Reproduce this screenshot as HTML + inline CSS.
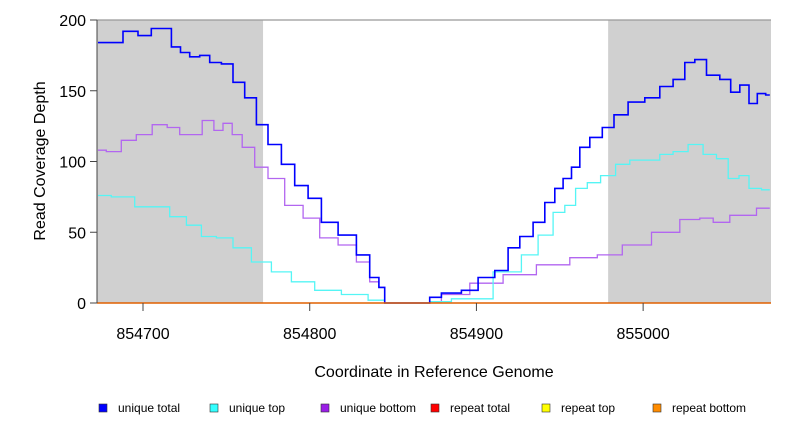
<!DOCTYPE html>
<html><head><meta charset="utf-8"><style>
html,body{margin:0;padding:0;background:#fff;overflow:hidden}
svg{display:block;font-family:"Liberation Sans",Arial,sans-serif}
</style></head><body>
<svg id="chart" width="792" height="432" viewBox="0 0 792 432" xmlns="http://www.w3.org/2000/svg">
<g id="bg"></g>
<g id="series"></g>
<g id="axes"></g>
<text x="434" y="377" font-size="16" text-anchor="middle">Coordinate in Reference Genome</text>
<text transform="translate(45,161) rotate(-90)" font-size="16" text-anchor="middle">Read Coverage Depth</text>
<g id="legend"></g>
</svg>
<script>
const xTicks = [854700, 854800, 854900, 855000];
const yTicks = [0, 50, 100, 150, 200];
const shaded = [[854672.4, 854772], [854979, 855076.7]];
const totalX = [854673,854683,854693,854701,854709,854714,854720,854725,854731,854737,854743,854751,854757,854765,854771,854779,854787,854795,854803,854811,854823,854833,854839,854844,854845,
854872,854886,854896,854906,854916,854922,854930,854938,854944,854950,854954,854960,854964,854972,854979,854986,854996,855006,855014,855022,855028,855034,855042,855050,855055,855061,855066,855071,855076];
const totalY = [184,184,192,189,194,194,181,177,174,175,170,169,156,145,126,112,98,83,74,57,48,34,18,11,0,
4,7,9,18,23,39,47,57,71,81,88,96,110,117,124,133,142,145,153,158,170,172,161,158,149,154,141,148,147];
const topX = [854673,854689,854701,854711,854721,854731,854739,854749,854759,854771,854783,854795,854811,854827,854843,854845,
854872,854898,854922,854932,854942,854950,854956,854963,854970,854979,854988,854996,855006,855014,855022,855032,855040,855048,855054,855061,855066,855076];
const topY = [76,75,68,68,61,55,47,46,39,29,22,15,9,6,2,0,
1,3,22,34,48,64,69,81,85,90,98,101,101,105,107,112,105,102,88,90,81,80];
const botX = [854673,854683,854691,854701,854710,854719,854725,854731,854740,854745,854751,854756,854763,854771,854779,854791,854801,854811,854823,854833,854839,854844,854845,
854872,854886,854906,854926,854946,854966,854979,854996,855014,855030,855038,855046,855058,855066,855070,855076];
const botY = [108,107,115,119,126,124,119,119,129,122,127,119,110,96,88,69,60,46,41,29,15,11,0,
1,6,14,20,27,32,34,41,50,59,60,57,62,62,67,67];
const legendLabels = ["unique total","unique top","unique bottom","repeat total","repeat top","repeat bottom"];
const legendColors = ["#0000ff","#33ffff","#9a1ee6","#ff0000","#ffff00","#ff8c00"];

const L=97,R=771,T=20,B=303, X0=854672.4, X1=855076.7, Y0=0, Y1=200;
const sx=v=>L+(v-X0)/(X1-X0)*(R-L);
const sy=v=>B-(v-Y0)/(Y1-Y0)*(B-T);
const NS="http://www.w3.org/2000/svg";
function mk(tag,attrs,parent){const e=document.createElementNS(NS,tag);for(const k in attrs)e.setAttribute(k,attrs[k]);parent.appendChild(e);return e;}
const bg=document.getElementById('bg'), ser=document.getElementById('series'), ax=document.getElementById('axes'), lg=document.getElementById('legend');
shaded.forEach(r=>{const e=mk('rect',{x:sx(r[0]),y:T,width:sx(r[1])-sx(r[0]),height:B-T,fill:'#d0d0d0'},bg);

});
function step(xs,ys){let d='M'+sx(xs[0]).toFixed(1)+' '+sy(ys[0]).toFixed(1);
 for(let i=1;i<xs.length;i++){
  const zeroEdge = ys[i]===0 || ys[i-1]===0;
  const xm = zeroEdge ? xs[i] : (xs[i]+xs[i-1])/2;
  d+='H'+sx(xm).toFixed(1)+'V'+sy(ys[i]).toFixed(1)+'H'+sx(xs[i]).toFixed(1);
 }
 return d;}
const s1=mk('path',{d:step(botX,botY),fill:'none',stroke:'#b266f0',"stroke-width":1.3},ser);


const s2=mk('path',{d:step(topX,topY),fill:'none',stroke:'#55f5f5',"stroke-width":1.3},ser);


const s3=mk('path',{d:step(totalX,totalY),fill:'none',stroke:'#0000ff',"stroke-width":1.6},ser);


const rep=mk('line',{x1:L,x2:R,y1:B,y2:B,stroke:'#e06000',"stroke-width":1.5},ser);


const topBorder=mk('line',{x1:L,x2:R,y1:T,y2:T,stroke:'#999',"stroke-width":1.2},ax);


const ya=mk('line',{x1:L,x2:L,y1:T,y2:B,stroke:'#444',"stroke-width":1},ax);


yTicks.forEach(v=>{const t=mk('line',{x1:L-7,x2:L,y1:sy(v),y2:sy(v),stroke:'#444'},ax);


const tx=mk('text',{x:L-11,y:sy(v)+6,"font-size":16,"text-anchor":"end"},ax);tx.textContent=v;

});
xTicks.forEach(v=>{const t=mk('line',{x1:sx(v),x2:sx(v),y1:B,y2:B+8,stroke:'#444'},ax);


const tx=mk('text',{x:sx(v),y:B+36,"font-size":16,"text-anchor":"middle"},ax);tx.textContent=v;

});
const lx=[103,214,325,435,546,657];
legendLabels.forEach((lab,i)=>{const r=mk('rect',{x:lx[i]-4,y:404,width:8,height:8,fill:legendColors[i],stroke:'#333',"stroke-width":0.6},lg);


const t=mk('text',{x:lx[i]+15,y:412,"font-size":12},lg);t.textContent=lab;

});
</script>
</body></html>
